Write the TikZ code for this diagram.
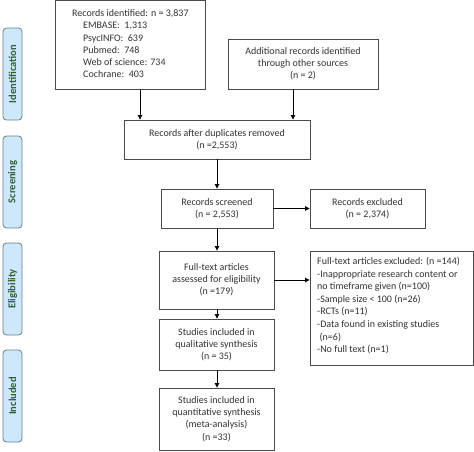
\documentclass[tikz,border=0pt]{standalone}
\usepackage{fontspec}
\setmainfont{Carlito}
\usetikzlibrary{arrows.meta}
\definecolor{txt}{HTML}{333333}
\definecolor{boxgray}{HTML}{4A4A4A}
\definecolor{sidefill}{HTML}{CDE8FA}
\definecolor{sidedraw}{HTML}{6A7F8C}
\definecolor{sidetxt}{HTML}{2F5F34}
\tikzset{
  x=1pt, y=-1pt,
  box/.style={draw=boxgray, line width=0.9pt, fill=white, text=txt, align=center, inner sep=0pt,
    font=\fontsize{10}{12.2}\selectfont},
  side/.style={draw=sidedraw, line width=0.8pt, fill=sidefill, rounded corners=3.5pt, inner sep=0pt,
    text=sidetxt, font=\fontsize{10.5}{12}\selectfont\bfseries, rotate=90},
  arr/.style={draw=black, line width=0.9pt, -{Triangle[length=4.5pt,width=4.5pt]}}
}
\begin{document}
\begin{tikzpicture}
\useasboundingbox (0,0) rectangle (474,451);
% side labels
\node[side, minimum width=92pt, minimum height=19pt] (s1) at (12.5,74) {Identification};
\node[side, minimum width=92pt, minimum height=19pt] (s2) at (12.5,182) {Screening};
\node[side, minimum width=92pt, minimum height=19pt] (s3) at (12.5,289) {Eligibility};
\node[side, minimum width=92pt, minimum height=19pt] (s4) at (12.5,396) {Included};
% boxes
\node[box, minimum width=150pt, minimum height=88.5pt] (id) at (130.5,45) {};
\node[text=txt, align=left, inner sep=0pt, font=\fontsize{10}{12.2}\selectfont, anchor=north west] (idt) at (72,9.5)
  {Records identified: n = 3,837\\
   \hspace*{11pt}EMBASE:\ \ 1,313\\
   \hspace*{11pt}PsycINFO:\ \ 639\\
   \hspace*{11pt}Pubmed:\ \ 748\\
   \hspace*{11pt}Web of science: 734\\
   \hspace*{11pt}Cochrane:\ \ 403};
\node[box, minimum width=150pt, minimum height=50pt] (add) at (303,64)
  {Additional records identified\\through other sources\\(n = 2)};
\node[box, minimum width=186pt, minimum height=39pt] (dup) at (217,139.5)
  {Records after duplicates removed\\(n =2,553)};
\node[box, minimum width=112pt, minimum height=39pt] (scr) at (217,208.5)
  {Records screened\\(n = 2,553)};
\node[box, minimum width=115pt, minimum height=39pt] (exc) at (367.5,208.5)
  {Records excluded\\(n = 2,374)};
\node[box, minimum width=115pt, minimum height=58pt] (full) at (216.5,280)
  {Full-text articles\\assessed for eligibility\\(n =179)};
\node[box, minimum width=163pt, minimum height=114pt] (exft) at (391.5,308) {};
\node[text=txt, align=left, inner sep=0pt, font=\fontsize{10}{12.6}\selectfont, anchor=north west] (exftt) at (317,257)
  {Full-text articles excluded: (n =144)\\
   -Inappropriate research content or\\
   no timeframe given (n=100)\\
   -Sample size {\textless} 100 (n=26)\\
   -RCTs (n=11)\\
   -Data found in existing studies\\
   \hspace*{2.5pt}(n=6)\\
   -No full text (n=1)};
\node[box, minimum width=115pt, minimum height=51pt] (qual) at (216.5,344.5)
  {Studies included in\\qualitative synthesis\\(n = 35)};
\node[box, minimum width=115pt, minimum height=62pt] (quant) at (216.5,419)
  {Studies included in\\quantitative synthesis\\(meta-analysis)\\(n =33)};
% arrows
\draw[arr] (id.south -| 140,0) -- (dup.north -| 140,0);
\draw[arr] (add.south -| 293,0) -- (dup.north -| 293,0);
\draw[arr] (dup.south -| 217,0) -- (scr.north -| 217,0);
\draw[arr] (scr.east) -- (exc.west);
\draw[arr] (scr.south -| 217,0) -- (full.north -| 217,0);
\draw[arr] (full.east) -- (full.east -| exft.west);
\draw[arr] (full.south -| 217,0) -- (qual.north -| 217,0);
\draw[arr] (qual.south -| 217,0) -- (quant.north -| 217,0);
\end{tikzpicture}
\end{document}
